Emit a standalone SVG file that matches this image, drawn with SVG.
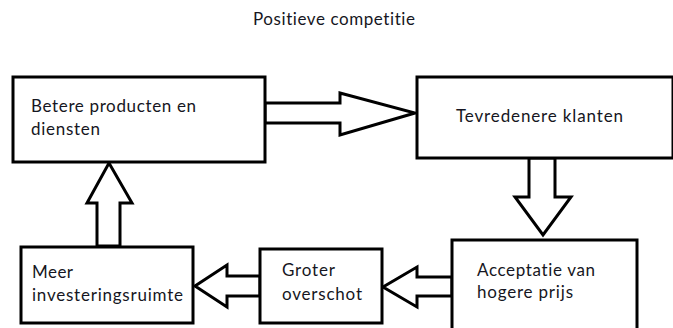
<svg xmlns="http://www.w3.org/2000/svg" width="673" height="328" viewBox="0 0 673 328">
  <style>
    .box { fill: #fff; stroke: #000; stroke-width: 3; }
    .arrow { fill: #fff; stroke: #000; stroke-width: 3; stroke-linejoin: miter; }
    .label { font-family: Lato, "Open Sans", "Liberation Sans", sans-serif; font-size: 17px; fill: #161622; font-variant-ligatures: none; }
  </style>
  <rect width="673" height="328" fill="#fff"/>

  <text class="label" x="253" y="25" textLength="162">Positieve competitie</text>

  <g id="connectors">
    <!-- Betere producten -> Tevredenere klanten -->
    <polygon class="arrow" points="265,103 340,103 340,93 415,113 340,135 340,123 265,123"/>
    <!-- Tevredenere klanten -> Acceptatie -->
    <polygon class="arrow" points="529,158 555,158 555,197 571,197 543,235 515,197 529,197"/>
    <!-- Acceptatie -> Groter overschot -->
    <polygon class="arrow" points="452,277 417,277 417,267 383,287 417,307 417,296 452,296"/>
    <!-- Groter overschot -> Meer investeringsruimte -->
    <polygon class="arrow" points="260,276 227,276 227,265 195,286 227,307 227,296 260,296"/>
    <!-- Meer investeringsruimte -> Betere producten -->
    <polygon class="arrow" points="97,246 97,203 87,203 109,163 132,203 120,203 120,246"/>
  </g>

  <g id="node-betere">
    <rect class="box" x="13" y="77" width="252" height="85"/>
    <text class="label" x="31" y="112" textLength="165">Betere producten en</text>
    <text class="label" x="31" y="135" textLength="69">diensten</text>
  </g>

  <g id="node-tevredener">
    <rect class="box" x="417" y="77" width="256" height="81"/>
    <text class="label" x="456" y="122" textLength="167">Tevredenere klanten</text>
  </g>

  <g id="node-acceptatie">
    <rect class="box" x="452" y="240" width="185" height="100"/>
    <text class="label" x="477" y="276" textLength="118">Acceptatie van</text>
    <text class="label" x="477" y="298" textLength="96">hogere prijs</text>
  </g>

  <g id="node-groter">
    <rect class="box" x="260" y="249" width="122" height="74"/>
    <text class="label" x="282" y="276" textLength="53">Groter</text>
    <text class="label" x="282" y="300" textLength="80">overschot</text>
  </g>

  <g id="node-meer">
    <rect class="box" x="21" y="247" width="172" height="76"/>
    <text class="label" x="32" y="278" textLength="41">Meer</text>
    <text class="label" x="32" y="301" textLength="151">investeringsruimte</text>
  </g>
</svg>
